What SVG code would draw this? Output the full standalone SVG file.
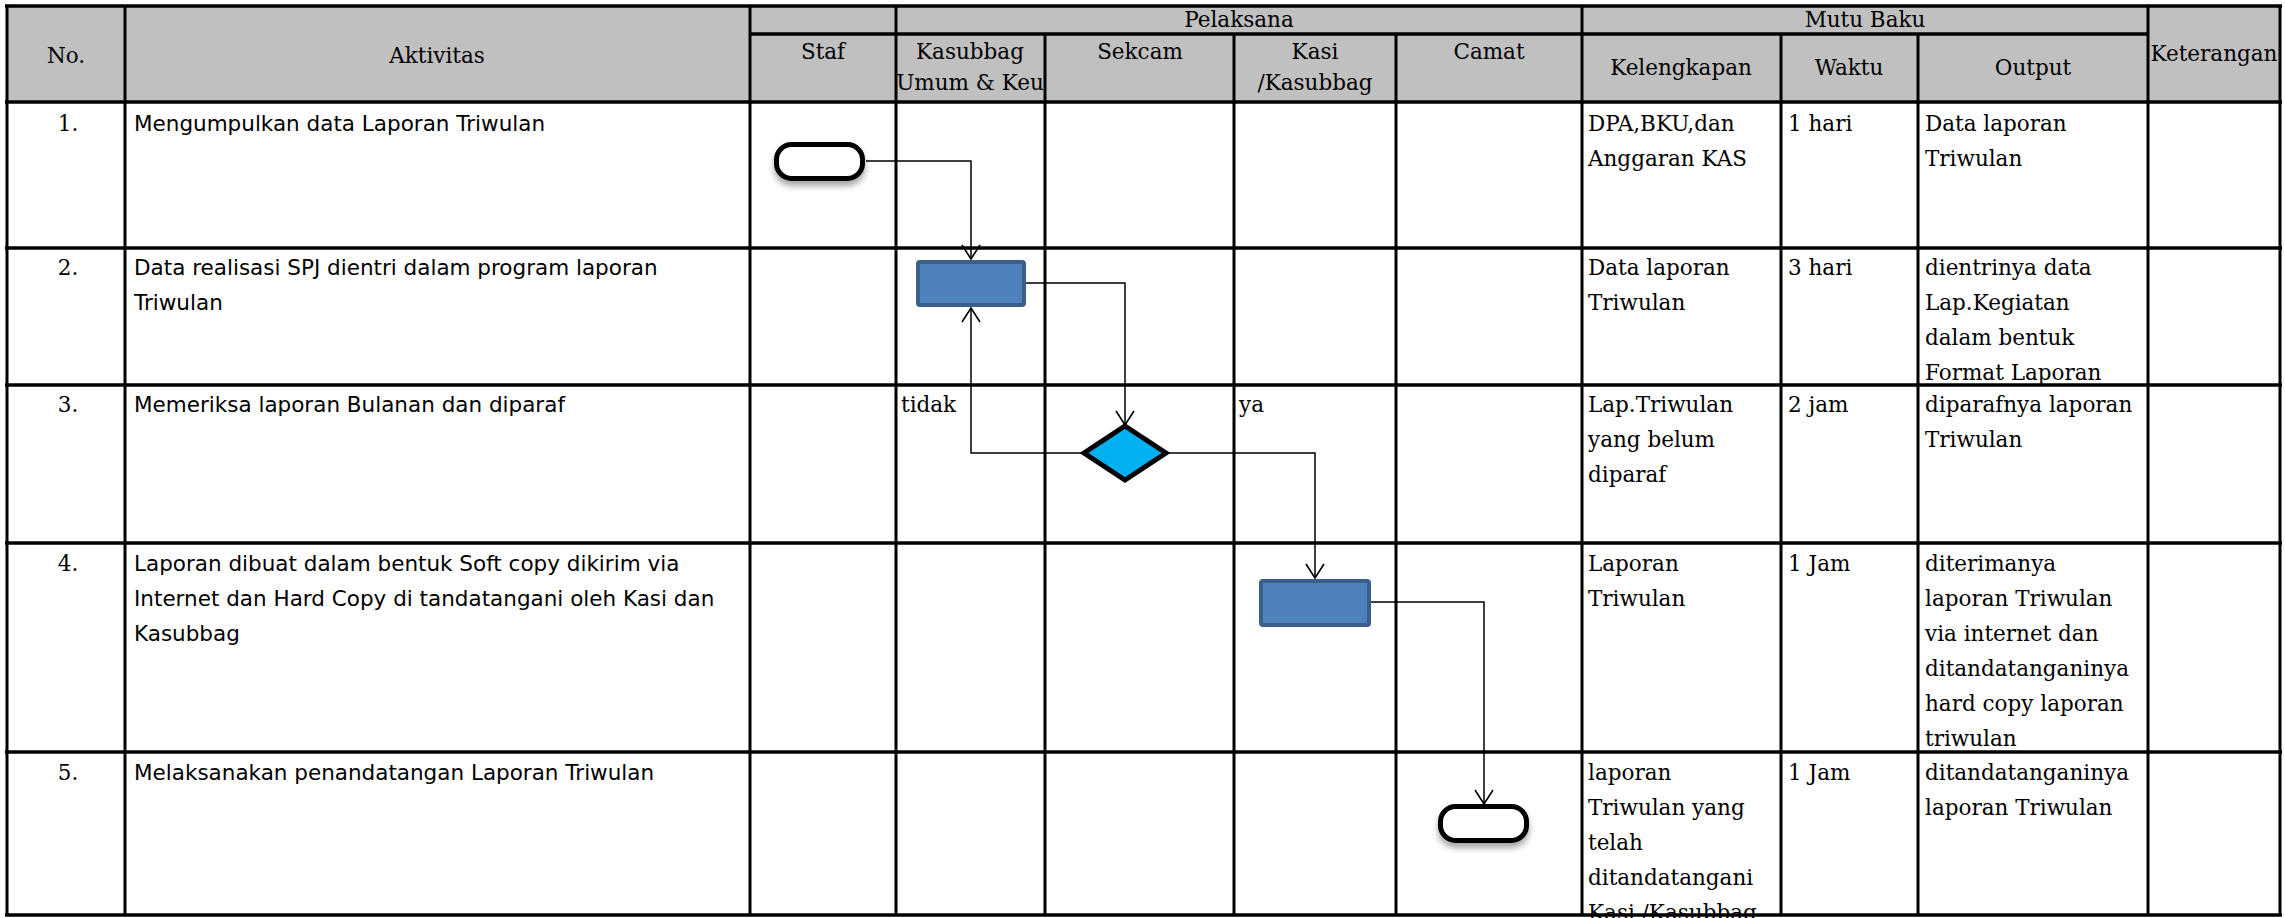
<svg xmlns="http://www.w3.org/2000/svg" width="2285" height="918" viewBox="0 0 2285 918">
<style>
.hdr{fill:#c0c0c0}
.hl{stroke:#000;stroke-width:3.5}
.vl{stroke:#000;stroke-width:3}
.serif{font-family:"DejaVu Serif","Liberation Serif",serif;font-size:21.5px;fill:#000}
.sans{font-family:"DejaVu Sans","Liberation Sans",sans-serif;font-size:21.5px;fill:#000}
.mid{text-anchor:middle}
.proc{fill:#4f81bd;stroke:#3a5f8b;stroke-width:4}
.term{fill:#fff;stroke:#000;stroke-width:5}
.dec{fill:#00b0f0;stroke:#000;stroke-width:5}
.conn{fill:none;stroke:#000;stroke-width:1.5}
</style>
<defs>
<marker id="arr" markerUnits="userSpaceOnUse" markerWidth="16" markerHeight="20" viewBox="0 0 16 20" refX="15" refY="10" orient="auto">
<path d="M1,1 L15,10 L1,19" fill="none" stroke="#000" stroke-width="1.6"/>
</marker>
<filter id="sh" x="-20%" y="-20%" width="140%" height="160%">
<feDropShadow dx="0" dy="5" stdDeviation="3" flood-color="#000" flood-opacity="0.35"/>
</filter>
</defs>
<rect x="0" y="0" width="2285" height="918" fill="#fff"/>
<g id="table">
<rect class="hdr" x="7" y="6" width="2273" height="96"/>
<g id="grid-h">
<line class="hl" x1="5" y1="6" x2="2282" y2="6"/>
<line class="hl" x1="750" y1="34" x2="2148" y2="34"/>
<line class="hl" x1="5" y1="102" x2="2282" y2="102"/>
<line class="hl" x1="5" y1="248" x2="2282" y2="248"/>
<line class="hl" x1="5" y1="385" x2="2282" y2="385"/>
<line class="hl" x1="5" y1="543" x2="2282" y2="543"/>
<line class="hl" x1="5" y1="752" x2="2282" y2="752"/>
</g>
<g id="grid-v">
<line class="vl" x1="7" y1="6" x2="7" y2="915"/>
<line class="vl" x1="125" y1="6" x2="125" y2="915"/>
<line class="vl" x1="750" y1="6" x2="750" y2="915"/>
<line class="vl" x1="896" y1="6" x2="896" y2="915"/>
<line class="vl" x1="1045" y1="34" x2="1045" y2="915"/>
<line class="vl" x1="1234" y1="34" x2="1234" y2="915"/>
<line class="vl" x1="1396" y1="34" x2="1396" y2="915"/>
<line class="vl" x1="1582" y1="6" x2="1582" y2="915"/>
<line class="vl" x1="1781" y1="34" x2="1781" y2="915"/>
<line class="vl" x1="1918" y1="34" x2="1918" y2="915"/>
<line class="vl" x1="2148" y1="6" x2="2148" y2="915"/>
<line class="vl" x1="2280" y1="6" x2="2280" y2="915"/>
</g>
<g id="header-text">
<text class="serif mid" x="66" y="63">No.</text>
<text class="serif mid" x="437" y="63">Aktivitas</text>
<text class="serif mid" x="1239" y="27">Pelaksana</text>
<text class="serif mid" x="1865" y="27">Mutu Baku</text>
<text class="serif mid" x="823" y="59">Staf</text>
<text class="serif mid" x="970" y="59">Kasubbag</text>
<text class="serif mid" x="970" y="90">Umum &amp; Keu</text>
<text class="serif mid" x="1140" y="59">Sekcam</text>
<text class="serif mid" x="1315" y="59">Kasi</text>
<text class="serif mid" x="1315" y="90">/Kasubbag</text>
<text class="serif mid" x="1489" y="59">Camat</text>
<text class="serif mid" x="1681" y="75">Kelengkapan</text>
<text class="serif mid" x="1849" y="75">Waktu</text>
<text class="serif mid" x="2033" y="75">Output</text>
<text class="serif mid" x="2214" y="61">Keterangan</text>
</g>
<g id="col-no">
<text class="serif mid" x="68" y="131">1.</text>
<text class="serif mid" x="68" y="275">2.</text>
<text class="serif mid" x="68" y="412">3.</text>
<text class="serif mid" x="68" y="571">4.</text>
<text class="serif mid" x="68" y="780">5.</text>
</g>
<g id="col-aktivitas">
<text class="sans" x="134" y="131">Mengumpulkan data Laporan Triwulan</text>
<text class="sans" x="134" y="275">Data realisasi SPJ dientri dalam program laporan</text>
<text class="sans" x="134" y="310">Triwulan</text>
<text class="sans" x="134" y="412">Memeriksa laporan Bulanan dan diparaf</text>
<text class="sans" x="134" y="571">Laporan dibuat dalam bentuk Soft copy dikirim via</text>
<text class="sans" x="134" y="606">Internet dan Hard Copy di tandatangani oleh Kasi dan</text>
<text class="sans" x="134" y="641">Kasubbag</text>
<text class="sans" x="134" y="780">Melaksanakan penandatangan Laporan Triwulan</text>
</g>
<g id="col-kelengkapan">
<text class="serif" x="1588" y="131">DPA,BKU,dan</text>
<text class="serif" x="1588" y="166">Anggaran KAS</text>
<text class="serif" x="1588" y="275">Data laporan</text>
<text class="serif" x="1588" y="310">Triwulan</text>
<text class="serif" x="1588" y="412">Lap.Triwulan</text>
<text class="serif" x="1588" y="447">yang belum</text>
<text class="serif" x="1588" y="482">diparaf</text>
<text class="serif" x="1588" y="571">Laporan</text>
<text class="serif" x="1588" y="606">Triwulan</text>
<text class="serif" x="1588" y="780">laporan</text>
<text class="serif" x="1588" y="815">Triwulan yang</text>
<text class="serif" x="1588" y="850">telah</text>
<text class="serif" x="1588" y="885">ditandatangani</text>
<text class="serif" x="1588" y="920">Kasi /Kasubbag</text>
</g>
<g id="col-waktu">
<text class="serif" x="1788" y="131">1 hari</text>
<text class="serif" x="1788" y="275">3 hari</text>
<text class="serif" x="1788" y="412">2 jam</text>
<text class="serif" x="1788" y="571">1 Jam</text>
<text class="serif" x="1788" y="780">1 Jam</text>
</g>
<g id="col-output">
<text class="serif" x="1925" y="131">Data laporan</text>
<text class="serif" x="1925" y="166">Triwulan</text>
<text class="serif" x="1925" y="275">dientrinya data</text>
<text class="serif" x="1925" y="310">Lap.Kegiatan</text>
<text class="serif" x="1925" y="345">dalam bentuk</text>
<text class="serif" x="1925" y="380">Format Laporan</text>
<text class="serif" x="1925" y="412">diparafnya laporan</text>
<text class="serif" x="1925" y="447">Triwulan</text>
<text class="serif" x="1925" y="571">diterimanya</text>
<text class="serif" x="1925" y="606">laporan Triwulan</text>
<text class="serif" x="1925" y="641">via internet dan</text>
<text class="serif" x="1925" y="676">ditandatanganinya</text>
<text class="serif" x="1925" y="711">hard copy laporan</text>
<text class="serif" x="1925" y="746">triwulan</text>
<text class="serif" x="1925" y="780">ditandatanganinya</text>
<text class="serif" x="1925" y="815">laporan Triwulan</text>
</g>
<line class="hl" x1="5" y1="915" x2="2282" y2="915"/>
</g>
<g id="connectors">
<path class="conn" d="M866,161 H971 V259" marker-end="url(#arr)"/>
<path class="conn" d="M1026,283 H1125 V425" marker-end="url(#arr)"/>
<path class="conn" d="M1084,453 H971 V308" marker-end="url(#arr)"/>
<path class="conn" d="M1166,453 H1315 V578" marker-end="url(#arr)"/>
<path class="conn" d="M1371,602 H1484 V804" marker-end="url(#arr)"/>
<text class="serif" x="901" y="412">tidak</text>
<text class="serif" x="1239" y="412">ya</text>
</g>
<g id="start">
<rect class="term" x="776.5" y="144.5" width="86" height="34" rx="15" filter="url(#sh)"/>
</g>
<g id="step2">
<rect class="proc" x="918" y="262" width="106" height="43" rx="2"/>
</g>
<g id="decision">
<polygon class="dec" points="1125,426 1166,453 1125,480 1084,453"/>
</g>
<g id="step4">
<rect class="proc" x="1261" y="581" width="108" height="44" rx="2"/>
</g>
<g id="end">
<rect class="term" x="1440.5" y="806.5" width="86" height="34" rx="15" filter="url(#sh)"/>
</g>
</svg>
